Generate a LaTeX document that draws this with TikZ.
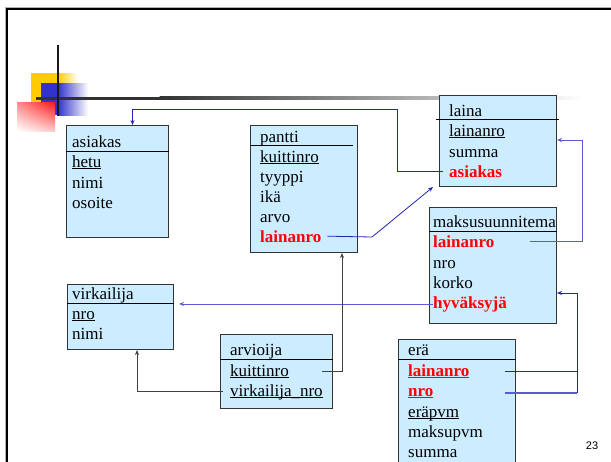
\documentclass[tikz,border=0pt]{standalone}
\usepackage{fontspec}
\setmainfont{Liberation Serif}
\newfontfamily\numfont{Liberation Sans}
\usetikzlibrary{arrows.meta,calc,shadings}
\definecolor{boxfill}{RGB}{204,236,255}
\definecolor{navy}{RGB}{35,35,185}
\definecolor{lblue}{RGB}{90,90,210}
\definecolor{fkred}{RGB}{255,0,0}
\definecolor{decoyellow}{RGB}{255,204,0}
\definecolor{decoblue}{RGB}{51,51,204}
\definecolor{redA}{RGB}{255,140,140}
\definecolor{redB}{RGB}{255,20,20}
\definecolor{redC}{RGB}{255,200,200}
\definecolor{barcol}{RGB}{50,50,50}
\newcommand\myul[1]{\setbox0\hbox{#1}\rlap{\rule[-2pt]{\wd0}{0.9pt}}\box0}
\begin{document}
\begin{tikzpicture}[x=1pt,y=-1pt,
 tbl/.style={draw=black!80, line width=1pt, fill=boxfill, inner sep=0pt, anchor=north west},
 row/.style={anchor=base west, inner sep=0pt, font=\fontsize{17}{20}\selectfont},
 fk/.style={anchor=base west, inner sep=0pt, text=fkred, font=\fontsize{17}{20}\selectfont\bfseries},
 hdr/.style={draw=black, line width=0.9pt},
 bl/.style={draw=navy, line width=0.8pt, -{Stealth[length=5pt,width=4pt]}},
 lbl/.style={draw=lblue, line width=0.7pt, -{Stealth[length=5pt,width=4pt,open]}},
 blk/.style={draw=black!75, line width=1pt, -{Stealth[length=5pt,width=4pt]}}]

\useasboundingbox (0,0) rectangle (611,461);
\clip (0,0) rectangle (611,461);
\fill[white] (0,0) rectangle (611,461);

% slide frame
\draw[gray!60, line width=1pt] (5.2,7.5) rectangle (660,520);
\draw[black, line width=1.8pt] (6.8,9.2) rectangle (660,520);

% decoration
\fill[decoyellow] (31,73) rectangle (58,115);
\shade[left color=decoyellow, right color=white] (58,73) rectangle (78,115);
\fill[decoblue] (41,83) rectangle (58,115);
\shade[left color=decoblue, right color=white] (58,83) rectangle (88,115);
\shade[upper left=redA, upper right=redB, lower left=white, lower right=redC] (17,102) rectangle (55,131);
\fill[barcol] (36,96.5) rectangle (160,99.5);
\shade[left color=barcol, right color=white] (159.5,96.5) rectangle (585,99.5);
\draw[black!90, line width=2pt] (58,45) -- (58,116);

% tables
\node[tbl, minimum width=102pt, minimum height=112pt] (asiakas) at (66,125) {};
\node[tbl, minimum width=107pt, minimum height=127pt] (pantti) at (250,125) {};
\node[tbl, minimum width=117pt, minimum height=91pt] (laina) at (439,95) {};
\node[tbl, minimum width=127pt, minimum height=116pt] (maksu) at (429,207) {};
\node[tbl, minimum width=106pt, minimum height=65pt] (virk) at (67,284) {};
\node[tbl, minimum width=112pt, minimum height=74pt] (arv) at (220,334) {};
\node[tbl, minimum width=117pt, minimum height=140pt] (era) at (398,339) {};

% header lines
\draw[hdr] (asiakas.west |- 0,151) -- (asiakas.east |- 0,151);
\draw[hdr] (pantti.west |- 0,145) -- (353,145);
\draw[hdr] (436,119) -- (559,119);
\draw[hdr] (maksu.west |- 0,231) -- (maksu.east |- 0,231);
\draw[hdr] (virk.west |- 0,303) -- (virk.east |- 0,303);
\draw[hdr] (arv.west |- 0,359) -- (arv.east |- 0,359);
\draw[hdr] (era.west |- 0,359) -- (era.east |- 0,359);

% asiakas
\node[row] (a0) at (72,147) {asiakas};
\node[row] (a1) at (72,167) {\myul{hetu}};
\node[row] (a2) at (72,188) {nimi};
\node[row] (a3) at (72,208) {osoite};
% pantti
\node[row] (p0) at (260,142) {pantti};
\node[row] (p1) at (260,162) {\myul{kuittinro}};
\node[row] (p2) at (260,182) {tyyppi};
\node[row] (p3) at (260,202) {ikä};
\node[row] (p4) at (260,222) {arvo};
\node[fk]  (p5) at (260,242) {lainanro};
% laina
\node[row] (l0) at (449,116) {laina};
\node[row] (l1) at (449,136) {\myul{lainanro}};
\node[row] (l2) at (449,157) {summa};
\node[fk]  (l3) at (449,177) {asiakas};
% maksusuunnitema
\node[row] (m0) at (433,227) {maksusuunnitema};
\node[fk]  (m1) at (433,247) {lainanro};
\node[row] (m2) at (433,268) {nro};
\node[row] (m3) at (433,288) {korko};
\node[fk]  (m4) at (433,308) {hyväksyjä};
% virkailija
\node[row] (v0) at (72,299) {virkailija};
\node[row] (v1) at (72,319) {\myul{nro}};
\node[row] (v2) at (72,339) {nimi};
% arvioija
\node[row] (r0) at (230,355) {arvioija};
\node[row] (r1) at (230,376) {\myul{kuittinro}};
\node[row] (r2) at (230,396) {\myul{virkailija\_nro}};
% erä
\node[row] (e0) at (408,355) {erä};
\node[fk]  (e1) at (408,376) {\myul{lainanro}};
\node[fk]  (e2) at (408,396) {\myul{nro}};
\node[row] (e3) at (408,417) {\myul{eräpvm}};
\node[row] (e4) at (408,437) {maksupvm};
\node[row] (e5) at (408,457) {summa};

% page number
\node[font=\numfont\fontsize{11}{13}\selectfont, inner sep=0pt] (pg) at (592,446) {23};

% connectors
\draw[bl] ([xshift=-6pt]l3.west) -| (397,109) -| ([xshift=15pt]asiakas.north);
\draw[bl] ([xshift=6pt]p5.east) -- (372,237) -- ([xshift=-6pt]laina.south west);
\draw[lbl] (m1.east -| 530,0) -| (582,140) -- (laina.east |- 0,140);
\draw[lbl] (m4.west) -- (m4.west -| 179,0);
\draw[draw=lblue, line width=1.4pt] (e2.east -| 505,0) -- (e2.east -| 577,0);
\draw[draw=navy, line width=0.8pt] (e1.east -| 505,0) -- (e1.east -| 577,0);
\draw[bl] (e2.east -| 577,0) -- (577,293) -- (maksu.east |- 0,293);
\draw[blk] (r1.east -| 322,0) -| (pantti.south -| 342,0);
\draw[blk] ([xshift=-7pt]r2.west) -| (virk.south -| 137,0);
\end{tikzpicture}
\end{document}
